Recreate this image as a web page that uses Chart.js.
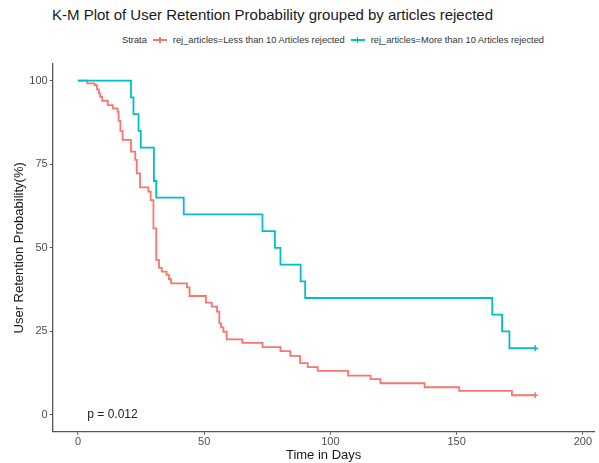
<!DOCTYPE html>
<html>
<head>
<meta charset="utf-8">
<script src="https://cdn.jsdelivr.net/npm/chart.js@4"></script>
<style>
  html, body { margin: 0; padding: 0; background: #fff; overflow: hidden; }
  #wrap { position: relative; width: 599px; height: 463px; font-family: 'Liberation Sans', Arial, sans-serif; }
  #title { position: absolute; left: 52px; top: 6px; font-size: 15px; line-height: 18px; color: #1a1a1a; white-space: nowrap; }
  #legend { position: absolute; left: 122px; top: 34px; height: 12px; display: flex; align-items: center; font-size: 9.3px; color: #333; white-space: nowrap; }
  .legend-title { margin-right: 6px; }
  .legend-item { display: flex; align-items: center; margin-right: 6px; }
  .key { position: relative; display: inline-block; width: 14px; height: 8px; margin-right: 6px; }
  .key i { position: absolute; left: 0; right: 0; top: 3.3px; height: 1.5px; }
  .key b { position: absolute; left: 6.3px; width: 1.4px; top: 1px; height: 6px; }
  canvas { position: absolute; left: 0; top: 0; }
</style>
</head>
<body>
<div id="wrap">
  <div id="title">K-M Plot of User Retention Probability grouped by articles rejected</div>
  <div id="legend"></div>
  <canvas id="km" width="599" height="463"></canvas>
</div>
<script>
// ── Data ──────────────────────────────────────────────────────────
const STRATA_TITLE = 'Strata';
const LABEL_LESS = 'rej_articles=Less than 10 Articles rejected';
const LABEL_MORE = 'rej_articles=More than 10 Articles rejected';

// step times (days) and survival (%) after each step; last point is censored
const daysLess = [0, 3.7, 6.6, 7.5, 8.3, 8.8, 9.6, 11.8, 13.8, 15.7, 16.1, 16.8, 17.7, 21.0, 22.7, 23.3,
  24.6, 27.9, 28.8, 29.9, 31.0, 32.1, 33.2, 35.1, 36.0, 36.9, 43.2, 44.2, 50.7, 53.0, 55.1, 56.0,
  56.7, 57.6, 58.9, 65.1, 73.1, 80.2, 84.1, 88.0, 91.0, 95.0, 107.0, 115.9, 119.8, 137.3, 151.0,
  171.9, 181.1];
const survLess = [100, 99.2, 98.7, 97.4, 96.2, 95.2, 94.0, 92.7, 91.7, 90.7, 88.0, 85.0, 82.3, 78.8, 76.3, 72.3,
  68.1, 66.8, 64.3, 55.8, 46.4, 44.0, 42.9, 41.9, 40.6, 39.4, 38.2, 35.6, 33.6, 32.4, 30.9, 27.4,
  26.2, 24.9, 22.6, 21.6, 20.3, 19.1, 17.7, 15.5, 14.3, 13.2, 11.8, 10.7, 9.5, 8.3, 7.2,
  5.9, 5.9];

const daysMore = [0, 21.0, 22.0, 24.0, 24.9, 30.1, 31.0, 41.9, 73.1, 78.0, 80.2, 88.2, 90.0, 164.1, 168.0, 170.9, 181.1];
const survMore = [100, 95, 90, 85, 80, 70, 65, 60, 55, 50, 45, 40, 35, 30, 25, 20, 20];

const xTicks = [0, 50, 100, 150, 200];
const yTicks = [0, 25, 50, 75, 100];

const P_TEXT = 'p = 0.012';
const P_AT = { x: 3.7, y: 0 };

// ── Colors / fonts ────────────────────────────────────────────────
const RED = '#F8766D';
const TEAL = '#00BFC4';
const AXIS = '#555555';
const FONT = "'Liberation Sans', Arial, sans-serif";

Chart.defaults.font.family = FONT;

function toPoints(days, surv) {
  return days.map((d, i) => ({ x: d, y: surv[i] }));
}

// censor mark only on the last point
function censorRadius(ctx) {
  return ctx.dataIndex === ctx.dataset.data.length - 1 ? 3 : 0;
}

const pValuePlugin = {
  id: 'pvalue',
  afterDatasetsDraw(chart) {
    const { ctx, scales: { x, y } } = chart;
    ctx.save();
    ctx.font = `12px ${FONT}`;
    ctx.fillStyle = '#222';
    ctx.textAlign = 'left';
    ctx.textBaseline = 'middle';
    ctx.fillText(P_TEXT, x.getPixelForValue(P_AT.x), y.getPixelForValue(P_AT.y));
    ctx.restore();
  },
};

const chart = new Chart(document.getElementById('km'), {
  type: 'line',
  data: {
    datasets: [
      {
        label: LABEL_LESS,
        data: toPoints(daysLess, survLess),
        order: 1, // drawn under the teal curve, as in ggplot
        borderColor: RED,
        backgroundColor: RED,
        borderWidth: 1.8,
        stepped: 'before',
        pointStyle: 'cross',
        pointRadius: censorRadius,
        pointBorderWidth: 1.5,
        pointHoverRadius: 0,
      },
      {
        label: LABEL_MORE,
        data: toPoints(daysMore, survMore),
        order: 0,
        borderColor: TEAL,
        backgroundColor: TEAL,
        borderWidth: 1.8,
        stepped: 'before',
        pointStyle: 'cross',
        pointRadius: censorRadius,
        pointBorderWidth: 1.5,
        pointHoverRadius: 0,
      },
    ],
  },
  options: {
    responsive: false,
    animation: false,
    events: [],
    layout: { padding: { top: 64, left: 0, right: 0, bottom: 0 } },
    plugins: {
      legend: { display: false },
      tooltip: { enabled: false },
    },
    scales: {
      x: {
        type: 'linear',
        min: -10,
        max: 204.6,
        afterBuildTicks: (axis) => { axis.ticks = xTicks.map(v => ({ value: v })); },
        afterFit: (axis) => { axis.height = 31.3; },
        grid: { drawOnChartArea: false, drawTicks: true, tickLength: 3, color: AXIS, lineWidth: 1 },
        border: { display: true, color: AXIS, width: 1.3 },
        ticks: { color: '#4d4d4d', font: { size: 11 }, padding: 1, maxRotation: 0 },
        title: { display: true, text: 'Time in Days', color: '#1a1a1a', font: { size: 13 }, padding: { top: 0, bottom: 0.2 } },
      },
      y: {
        type: 'linear',
        min: -5,
        max: 105,
        afterBuildTicks: (axis) => { axis.ticks = yTicks.map(v => ({ value: v })); },
        afterFit: (axis) => { axis.width = 52.7; },
        grid: { drawOnChartArea: false, drawTicks: true, tickLength: 3, color: AXIS, lineWidth: 1 },
        border: { display: true, color: AXIS, width: 1.3 },
        ticks: { color: '#4d4d4d', font: { size: 11 }, padding: 2 },
        title: { display: true, text: 'User Retention Probability(%)', color: '#1a1a1a', font: { size: 13 }, padding: { top: 11.2, bottom: 0 } },
      },
    },
  },
  plugins: [pValuePlugin],
});

// ── HTML legend built from the datasets ───────────────────────────
const legend = document.getElementById('legend');
legend.innerHTML = `<span class="legend-title">${STRATA_TITLE}</span>` +
  chart.data.datasets.map(ds => `
    <span class="legend-item">
      <span class="key"><i style="background:${ds.borderColor}"></i><b style="background:${ds.borderColor}"></b></span>
      ${ds.label}
    </span>`).join('');
</script>
</body>
</html>
